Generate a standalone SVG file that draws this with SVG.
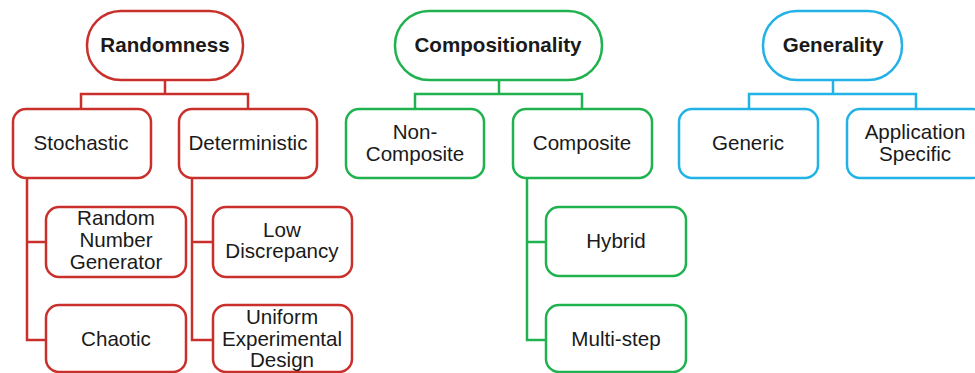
<svg xmlns="http://www.w3.org/2000/svg" width="975" height="373" viewBox="0 0 975 373">
<style>
text{font-family:"Liberation Sans",Arial,sans-serif;font-size:20.6px;fill:#1a1a1a;text-anchor:middle}
.t{font-weight:bold}
.box{fill:#fff;stroke-width:2.5}
.red{stroke:#c9302c}
.grn{stroke:#1fb24f}
.blu{stroke:#22b2e6}
.ln{fill:none;stroke-width:2.5}
</style>
<rect width="975" height="373" fill="#fff"/>
<g id="connectors">
<path class="ln red" d="M165 80V94M81 109V94H248V109M27 178V340H46M27 242H46M192 178V340H213M192 242H213"/>
<path class="ln grn" d="M499 80V94M415 109V94H582V109M527 178V340H546M527 242H546"/>
<path class="ln blu" d="M833 80V94M749 109V94H916V109"/>
</g>
<g id="randomness"><rect class="box red" x="87" y="11" width="156" height="69" rx="34"/><text class="t" x="165" y="52">Randomness</text></g>
<g id="stochastic"><rect class="box red" x="13" y="109" width="138" height="69" rx="13"/><text x="81" y="150">Stochastic</text></g>
<g id="deterministic"><rect class="box red" x="179" y="109" width="138" height="69" rx="13"/><text x="248" y="150">Deterministic</text></g>
<g id="rng"><rect class="box red" x="46" y="207" width="140" height="70" rx="13"/><text x="116" y="225">Random</text><text x="116" y="247">Number</text><text x="116" y="269">Generator</text></g>
<g id="chaotic"><rect class="box red" x="46" y="305" width="140" height="67" rx="13"/><text x="116" y="346">Chaotic</text></g>
<g id="lowdisc"><rect class="box red" x="213" y="207" width="139" height="70" rx="13"/><text x="282" y="237">Low</text><text x="282" y="258">Discrepancy</text></g>
<g id="uniform"><rect class="box red" x="213" y="305" width="139" height="67" rx="13"/><text x="282" y="324">Uniform</text><text x="282" y="346">Experimental</text><text x="282" y="367">Design</text></g>
<g id="compositionality"><rect class="box grn" x="395" y="11" width="207" height="69" rx="34"/><text class="t" x="498" y="52">Compositionality</text></g>
<g id="noncomposite"><rect class="box grn" x="346" y="109" width="138" height="69" rx="13"/><text x="415" y="139">Non-</text><text x="415" y="161">Composite</text></g>
<g id="composite"><rect class="box grn" x="513" y="109" width="139" height="69" rx="13"/><text x="582" y="150">Composite</text></g>
<g id="hybrid"><rect class="box grn" x="546" y="207" width="140" height="69" rx="13"/><text x="616" y="248">Hybrid</text></g>
<g id="multistep"><rect class="box grn" x="546" y="305" width="140" height="67" rx="13"/><text x="616" y="346">Multi-step</text></g>
<g id="generality"><rect class="box blu" x="763" y="11" width="139" height="69" rx="34"/><text class="t" x="833" y="52">Generality</text></g>
<g id="generic"><rect class="box blu" x="679" y="109" width="139" height="69" rx="13"/><text x="748" y="150">Generic</text></g>
<g id="appspecific"><rect class="box blu" x="847" y="109" width="139" height="69" rx="13"/><text x="915" y="139">Application</text><text x="915" y="161">Specific</text></g>
</svg>
